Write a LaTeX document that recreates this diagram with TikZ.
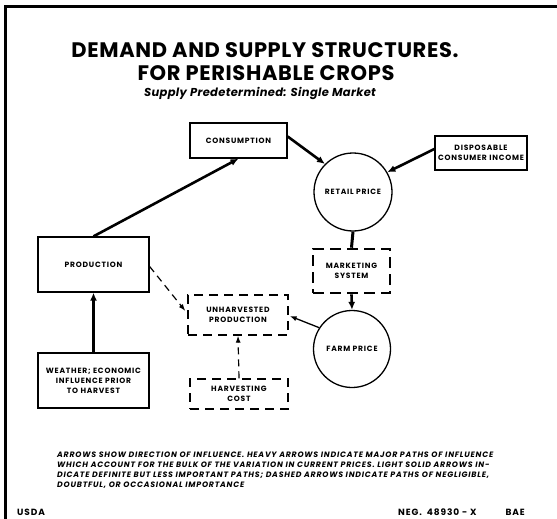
\documentclass[tikz,border=0pt]{standalone}
\usepackage{fontspec}
\setmainfont{Poppins}
\newfontfamily\labelfont[LetterSpace=10]{Poppins}
\newfontfamily\titlefont[LetterSpace=3]{Poppins}
\newfontfamily\notefont[LetterSpace=10]{Poppins}
\usetikzlibrary{arrows.meta,calc}

\tikzset{
  frame/.style={line width=3pt},
  box/.style={draw, line width=1.3pt, align=center, inner sep=2pt,
    font=\labelfont\bfseries\fontsize{7.6}{10}\selectfont},
  dbox/.style={box, dash pattern=on 9pt off 6pt},
  hbox/.style={box, line width=2.6pt, dash pattern=on 11pt off 6pt},
  ring/.style={box, circle},
  heavy/.style={line width=2.6pt, -{Latex[length=8pt,width=7pt]}},
  light/.style={line width=1.3pt, -{Latex[length=7pt,width=5pt]}},
  dashedarrow/.style={line width=1.2pt, dash pattern=on 7pt off 5pt, -{Latex[length=7pt,width=5pt]}},
  note/.style={font=\notefont\bfseries\itshape\fontsize{7.8}{10}\selectfont, align=left, inner sep=0pt},
  credit/.style={font=\notefont\bfseries\fontsize{9}{10}\selectfont, inner sep=0pt},
}

\begin{document}
\begin{tikzpicture}[x=1pt,y=-1pt]
\useasboundingbox (0,0) rectangle (557,519);

% frame on the left and top edges
\draw[frame] (5,519) -- (5,7) -- (557,7);

% titles
\node[font=\titlefont\bfseries\fontsize{21}{24}\selectfont] (t1) at (265,50) {DEMAND AND SUPPLY STRUCTURES.};
\node[font=\titlefont\bfseries\fontsize{21}{24}\selectfont] (t2) at (266,73) {FOR PERISHABLE CROPS};
\node[font=\titlefont\bfseries\itshape\fontsize{11.5}{13}\selectfont] (t3) at (260,93) {Supply Predetermined: Single Market};

% boxes and circles
\node[box, minimum width=97pt, minimum height=35pt] (cons) at (238.5,140.5) {CONSUMPTION};
\node[box, minimum width=92pt, minimum height=34pt] (disp) at (481,153) {DISPOSABLE\\CONSUMER INCOME};
\node[ring, minimum size=78pt] (retail) at (353,192) {RETAIL PRICE};
\node[hbox, minimum width=77pt, minimum height=44pt] (mkt) at (351.5,271) {MARKETING\\SYSTEM};
\node[ring, minimum size=77pt] (farm) at (352,349) {FARM PRICE};
\node[box, minimum width=111pt, minimum height=55pt] (prod) at (93.5,264.5) {PRODUCTION};
\node[dbox, minimum width=100pt, minimum height=40pt] (unh) at (238,315) {UNHARVESTED\\PRODUCTION};
\node[box, minimum width=111pt, minimum height=55pt] (wea) at (93.5,380.5) {WEATHER; ECONOMIC\\INFLUENCE PRIOR\\TO HARVEST};
\node[dbox, minimum width=98pt, minimum height=30pt] (harv) at (239,394) {HARVESTING\\COST};

% connectors
\draw[heavy] (prod.north) -- (cons.south);
\draw[heavy] ($(cons.east)+(0,-4)$) -- (retail.135);
\draw[heavy] ($(disp.west)+(0,-4)$) -- (retail.30);
\draw[line width=3pt] (retail.south) -- (mkt.north);
\draw[heavy] (mkt.south) -- (farm.north);
\draw[light] (farm.147) -- ($(unh.east)+(1,1)$);
\draw[heavy] (wea.north) -- (prod.south);
\draw[dashedarrow] ($(prod.east)+(0,2)$) -- ($(unh.west)+(-2,-4)$);
\draw[dashedarrow] (harv.north) -- (unh.south);

% explanatory note and credits
\node[note, anchor=north west] (note) at (57,452) {ARROWS SHOW DIRECTION OF INFLUENCE. HEAVY ARROWS INDICATE MAJOR PATHS OF INFLUENCE\\
WHICH ACCOUNT FOR THE BULK OF THE VARIATION IN CURRENT PRICES. LIGHT SOLID ARROWS IN-\\
DICATE DEFINITE BUT LESS IMPORTANT PATHS; DASHED ARROWS INDICATE PATHS OF NEGLIGIBLE,\\
DOUBTFUL, OR OCCASIONAL IMPORTANCE};
\node[credit, anchor=west] (usda) at (17,512) {USDA};
\node[credit, anchor=west] (neg) at (398,512) {NEG.\hspace{5pt}48930 - X};
\node[credit, anchor=east] (bae) at (525,512) {BAE};
\end{tikzpicture}
\end{document}
